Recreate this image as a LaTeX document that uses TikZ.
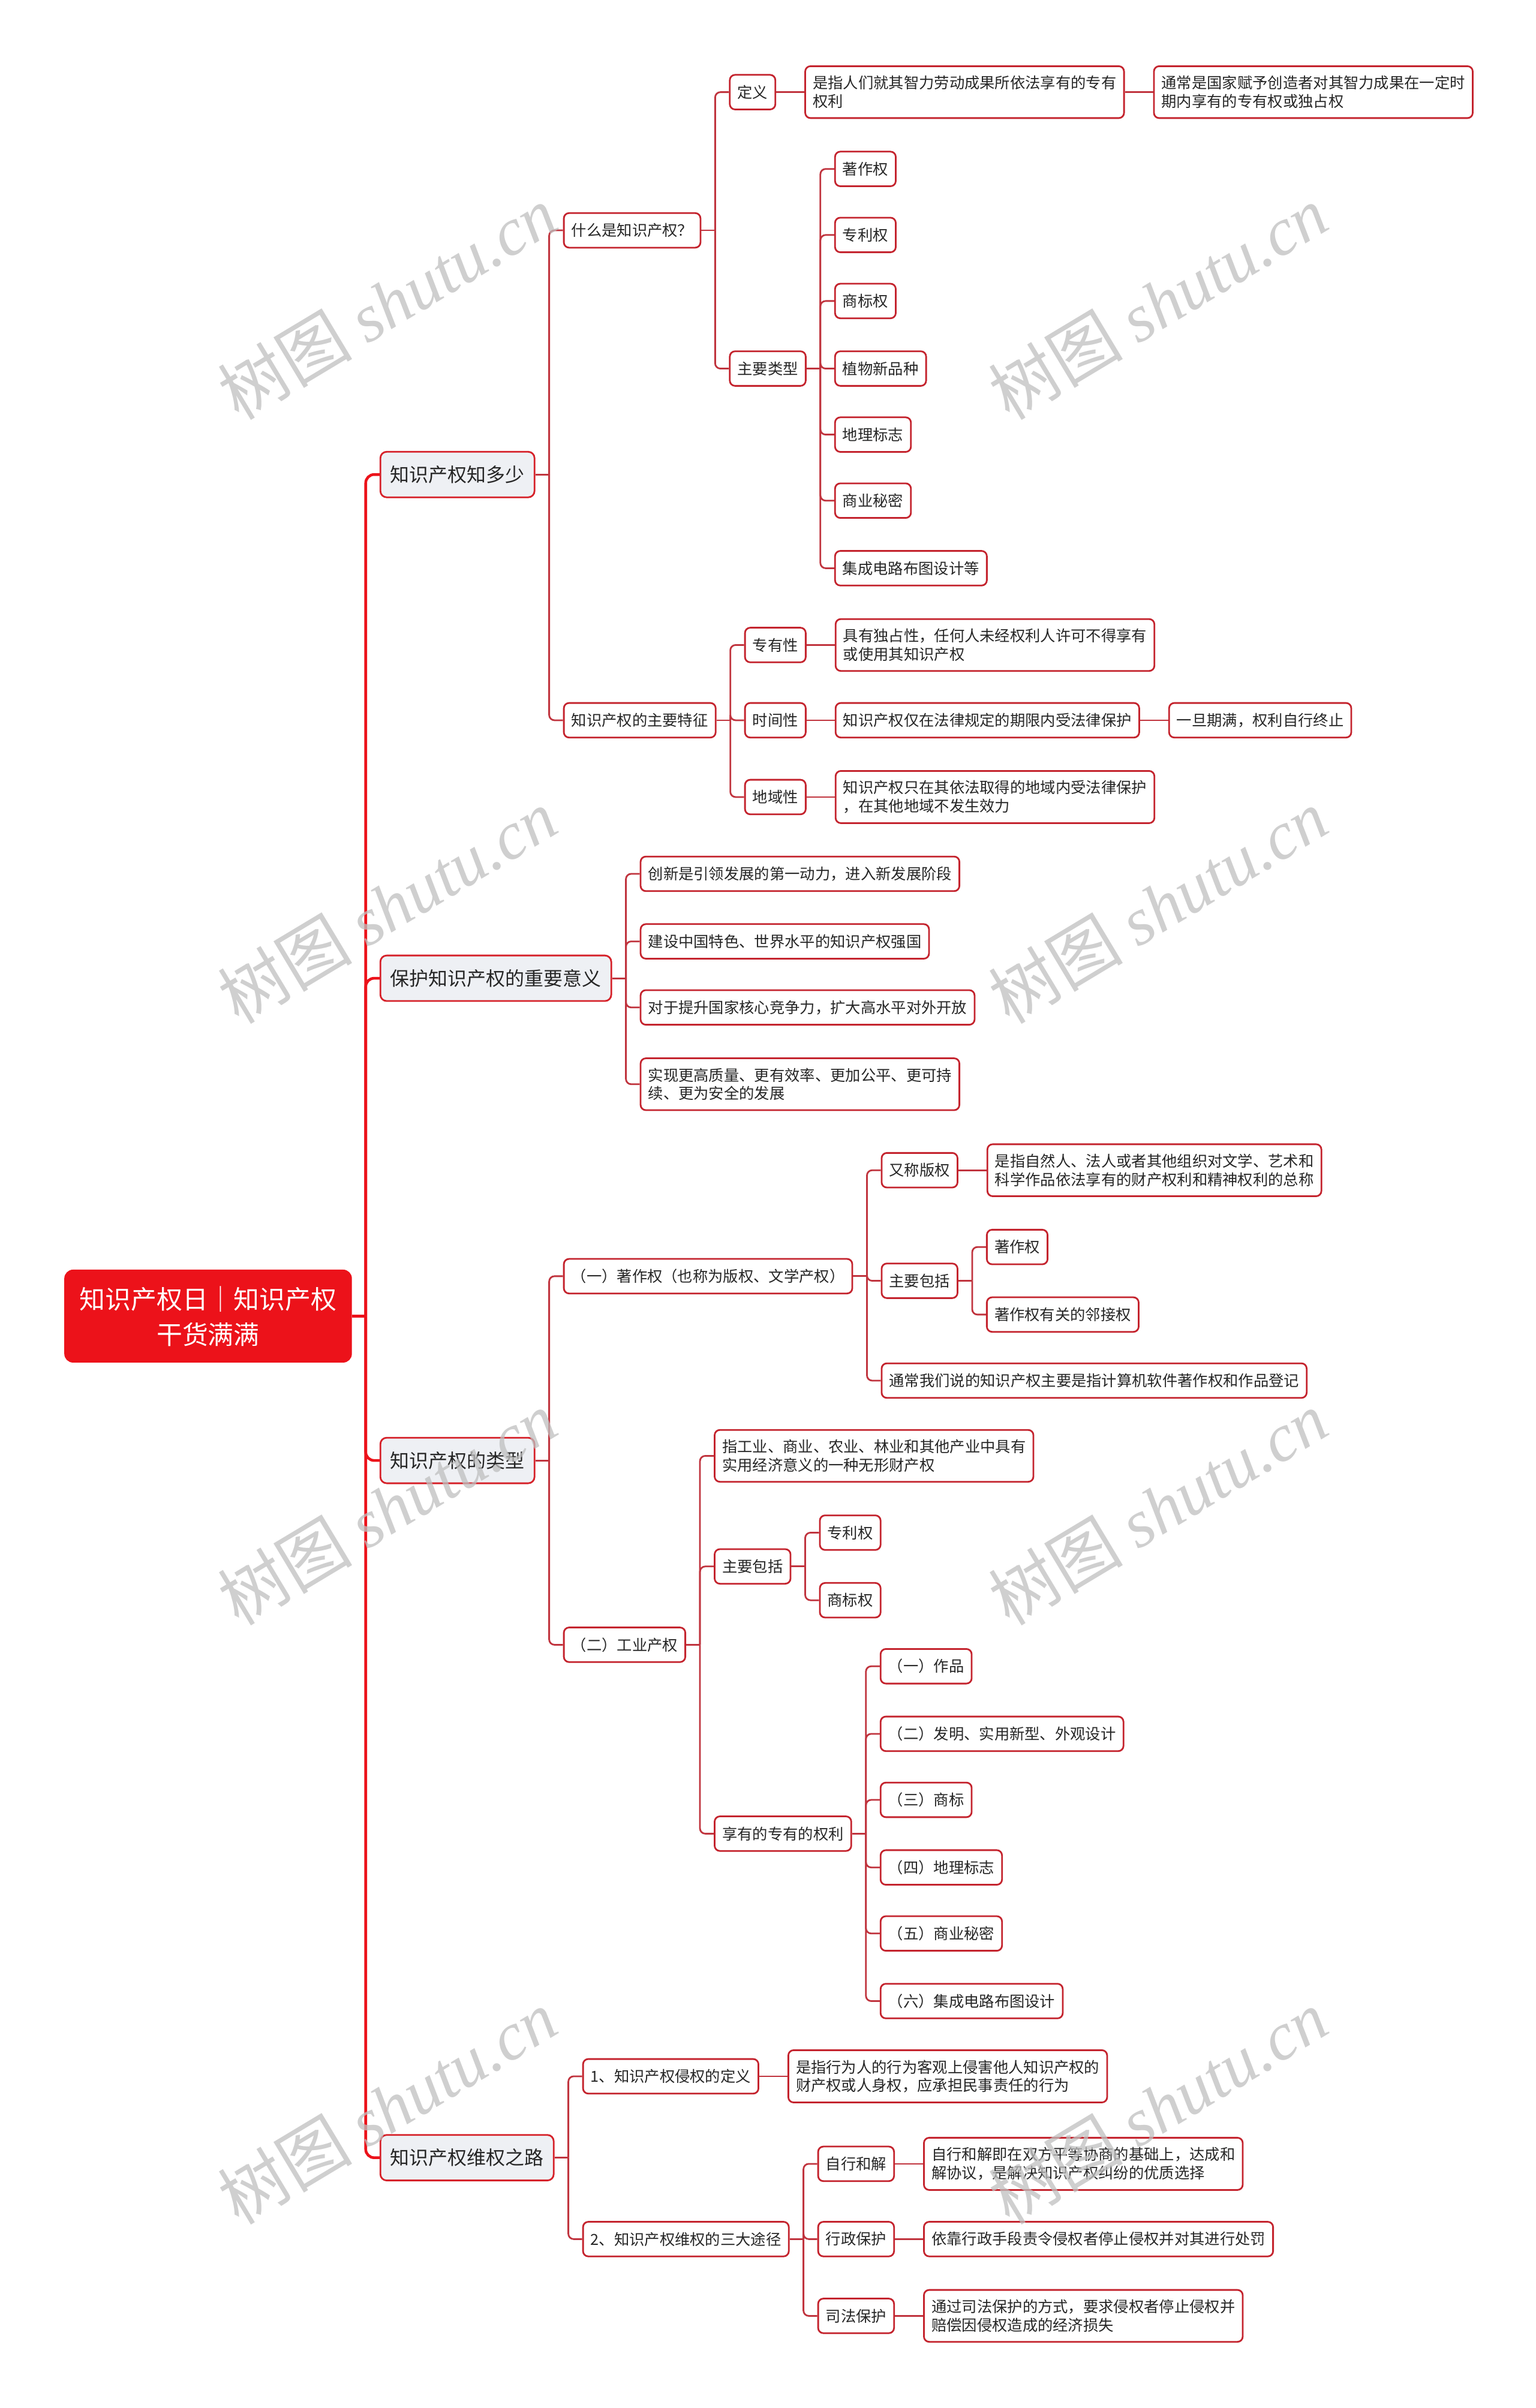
\documentclass[tikz,border=0pt]{standalone}
\usepackage{fontspec}
\setmainfont{Noto Sans CJK SC}
\newfontfamily\wmfont{Liberation Serif}
\usepackage{xcolor}
\usepackage{tikz}
\usetikzlibrary{positioning, calc}
\definecolor{rootred}{RGB}{236,18,26}
\definecolor{topicred}{RGB}{214,34,42}
\definecolor{itemred}{RGB}{196,36,46}
\definecolor{linkred}{RGB}{192,52,62}
\definecolor{topicfill}{RGB}{238,240,244}
\definecolor{ink}{RGB}{38,38,38}

\begin{document}
\begin{tikzpicture}[
    x=0.256mm, y=-0.256mm,
    rootbox/.style={rectangle, rounded corners=4pt, draw=rootred, fill=rootred, text=white, minimum width=136pt, minimum height=43.7pt, align=center, font=\fontsize{12.2}{16.8}\selectfont},
    topic/.style={rectangle, rounded corners=3pt, draw=topicred, line width=0.8pt, fill=topicfill, text=ink, minimum height=21.6pt, inner xsep=4.7pt, font=\fontsize{9.1}{11}\selectfont},
    item/.style={rectangle, rounded corners=2.5pt, draw=itemred, line width=0.8pt, fill=white, text=ink, minimum height=16.4pt, inner xsep=3.6pt, inner ysep=4.6pt, align=left, font=\fontsize{7.2}{8.7}\selectfont},
    trunk/.style={draw=rootred, line width=1.3pt, rounded corners=4pt},
    link/.style={draw=linkred, line width=0.8pt, rounded corners=2.5pt},
    wmark/.style={rotate=31, inner sep=0pt, text=black!25, text opacity=0.75, font=\fontsize{32}{32}\selectfont},
    node distance=0.47cm,
]
\useasboundingbox (0,0) rectangle (1000,1568);

% root and main topics
\node[rootbox] (root) at (135.5,857) {知识产权日｜知识产权\\干货满满};
\node[topic, anchor=west] (know)   at ($(root.east)+(18,-548)$) {知识产权知多少};
\node[topic, anchor=west] (mean)   at ($(root.east)+(18,-220)$) {保护知识产权的重要意义};
\node[topic, anchor=west] (kind)   at ($(root.east)+(18,94)$)   {知识产权的类型};
\node[topic, anchor=west] (defend) at ($(root.east)+(18,548)$)  {知识产权维权之路};

% 知识产权知多少
\node[item, anchor=west] (what) at ($(know.east)+(18,-159)$) {什么是知识产权？};
\node[item, anchor=west] (def)  at ($(what.east)+(18,-90)$)  {定义};
\node[item, right=of def]  (def1) {是指人们就其智力劳动成果所依法享有的专有\\权利};
\node[item, right=of def1] (def2) {通常是国家赋予创造者对其智力成果在一定时\\期内享有的专有权或独占权};
\node[item, anchor=west] (types) at ($(what.east)+(18,90)$) {主要类型};
\node[item, anchor=west] (t1) at ($(types.east)+(18,-130)$) {著作权};
\node[item, anchor=west] (t2) at ($(types.east)+(18,-87)$)  {专利权};
\node[item, anchor=west] (t3) at ($(types.east)+(18,-44)$)  {商标权};
\node[item, anchor=west] (t4) at ($(types.east)+(18,0)$)    {植物新品种};
\node[item, anchor=west] (t5) at ($(types.east)+(18,43)$)   {地理标志};
\node[item, anchor=west] (t6) at ($(types.east)+(18,86)$)   {商业秘密};
\node[item, anchor=west] (t7) at ($(types.east)+(18,130)$)  {集成电路布图设计等};
\node[item, anchor=west] (feat) at ($(know.east)+(18,160)$) {知识产权的主要特征};
\node[item, anchor=west] (excl) at ($(feat.east)+(18,-49)$) {专有性};
\node[item, right=of excl] (excl1) {具有独占性，任何人未经权利人许可不得享有\\或使用其知识产权};
\node[item, anchor=west] (time) at ($(feat.east)+(18,0)$)   {时间性};
\node[item, right=of time]  (time1) {知识产权仅在法律规定的期限内受法律保护};
\node[item, right=of time1] (time2) {一旦期满，权利自行终止};
\node[item, anchor=west] (area) at ($(feat.east)+(18,50)$)  {地域性};
\node[item, right=of area] (area1) {知识产权只在其依法取得的地域内受法律保护\\，在其他地域不发生效力};

% 保护知识产权的重要意义
\node[item, anchor=west] (m1) at ($(mean.east)+(18,-68)$) {创新是引领发展的第一动力，进入新发展阶段};
\node[item, anchor=west] (m2) at ($(mean.east)+(18,-24)$) {建设中国特色、世界水平的知识产权强国};
\node[item, anchor=west] (m3) at ($(mean.east)+(18,19)$)  {对于提升国家核心竞争力，扩大高水平对外开放};
\node[item, anchor=west] (m4) at ($(mean.east)+(18,69)$)  {实现更高质量、更有效率、更加公平、更可持\\续、更为安全的发展};

% 知识产权的类型
\node[item, anchor=west] (copy) at ($(kind.east)+(18,-120)$) {（一）著作权（也称为版权、文学产权）};
\node[item, anchor=west] (alias) at ($(copy.east)+(18,-69)$) {又称版权};
\node[item, right=of alias] (alias1) {是指自然人、法人或者其他组织对文学、艺术和\\科学作品依法享有的财产权利和精神权利的总称};
\node[item, anchor=west] (cinc) at ($(copy.east)+(18,3)$) {主要包括};
\node[item, anchor=west] (cinc1) at ($(cinc.east)+(18,-22)$) {著作权};
\node[item, anchor=west] (cinc2) at ($(cinc.east)+(18,22)$)  {著作权有关的邻接权};
\node[item, anchor=west] (usual) at ($(copy.east)+(18,68)$) {通常我们说的知识产权主要是指计算机软件著作权和作品登记};
\node[item, anchor=west] (indus) at ($(kind.east)+(18,120)$) {（二）工业产权};
\node[item, anchor=west] (ind1) at ($(indus.east)+(18,-123)$) {指工业、商业、农业、林业和其他产业中具有\\实用经济意义的一种无形财产权};
\node[item, anchor=west] (iinc) at ($(indus.east)+(18,-51)$) {主要包括};
\node[item, anchor=west] (iinc1) at ($(iinc.east)+(18,-22)$) {专利权};
\node[item, anchor=west] (iinc2) at ($(iinc.east)+(18,22)$)  {商标权};
\node[item, anchor=west] (own) at ($(indus.east)+(18,123)$) {享有的专有的权利};
\node[item, anchor=west] (o1) at ($(own.east)+(18,-109)$) {（一）作品};
\node[item, anchor=west] (o2) at ($(own.east)+(18,-65)$)  {（二）发明、实用新型、外观设计};
\node[item, anchor=west] (o3) at ($(own.east)+(18,-22)$)  {（三）商标};
\node[item, anchor=west] (o4) at ($(own.east)+(18,22)$)   {（四）地理标志};
\node[item, anchor=west] (o5) at ($(own.east)+(18,65)$)   {（五）商业秘密};
\node[item, anchor=west] (o6) at ($(own.east)+(18,109)$)  {（六）集成电路布图设计};

% 知识产权维权之路
\node[item, anchor=west] (tort) at ($(defend.east)+(18,-53)$) {1、知识产权侵权的定义};
\node[item, right=of tort] (tort1) {是指行为人的行为客观上侵害他人知识产权的\\财产权或人身权，应承担民事责任的行为};
\node[item, anchor=west] (ways) at ($(defend.east)+(18,53)$) {2、知识产权维权的三大途径};
\node[item, anchor=west] (w1) at ($(ways.east)+(18,-49)$) {自行和解};
\node[item, right=of w1] (w1a) {自行和解即在双方平等协商的基础上，达成和\\解协议，是解决知识产权纠纷的优质选择};
\node[item, anchor=west] (w2) at ($(ways.east)+(18,0)$) {行政保护};
\node[item, right=of w2] (w2a) {依靠行政手段责令侵权者停止侵权并对其进行处罚};
\node[item, anchor=west] (w3) at ($(ways.east)+(18,50)$) {司法保护};
\node[item, right=of w3] (w3a) {通过司法保护的方式，要求侵权者停止侵权并\\赔偿因侵权造成的经济损失};

% trunk
\draw[trunk] (root.east) -- ++(9,0);
\draw[trunk] (root.east) ++(9,0) |- (know.west);
\draw[trunk] (root.east) ++(9,0) |- (mean.west);
\draw[trunk] (root.east) ++(9,0) |- (kind.west);
\draw[trunk] (root.east) ++(9,0) |- (defend.west);

% branch links
\draw[link] (know.east) -- ++(9,0);
\draw[link] (know.east) ++(9,0) |- (what.west);
\draw[link] (know.east) ++(9,0) |- (feat.west);
\draw[link] (what.east) -- ++(9,0);
\draw[link] (what.east) ++(9,0) |- (def.west);
\draw[link] (what.east) ++(9,0) |- (types.west);
\draw[link] (def) -- (def1);
\draw[link] (def1) -- (def2);
\draw[link] (types.east) -- ++(9,0);
\draw[link] (types.east) ++(9,0) |- (t1.west);
\draw[link] (types.east) ++(9,0) |- (t2.west);
\draw[link] (types.east) ++(9,0) |- (t3.west);
\draw[link] (types.east) ++(9,0) |- (t4.west);
\draw[link] (types.east) ++(9,0) |- (t5.west);
\draw[link] (types.east) ++(9,0) |- (t6.west);
\draw[link] (types.east) ++(9,0) |- (t7.west);
\draw[link] (feat.east) -- ++(9,0);
\draw[link] (feat.east) ++(9,0) |- (excl.west);
\draw[link] (feat.east) ++(9,0) |- (time.west);
\draw[link] (feat.east) ++(9,0) |- (area.west);
\draw[link] (excl) -- (excl1);
\draw[link] (time) -- (time1);
\draw[link] (time1) -- (time2);
\draw[link] (area) -- (area1);

\draw[link] (mean.east) -- ++(9,0);
\draw[link] (mean.east) ++(9,0) |- (m1.west);
\draw[link] (mean.east) ++(9,0) |- (m2.west);
\draw[link] (mean.east) ++(9,0) |- (m3.west);
\draw[link] (mean.east) ++(9,0) |- (m4.west);

\draw[link] (kind.east) -- ++(9,0);
\draw[link] (kind.east) ++(9,0) |- (copy.west);
\draw[link] (kind.east) ++(9,0) |- (indus.west);
\draw[link] (copy.east) -- ++(9,0);
\draw[link] (copy.east) ++(9,0) |- (alias.west);
\draw[link] (copy.east) ++(9,0) |- (cinc.west);
\draw[link] (copy.east) ++(9,0) |- (usual.west);
\draw[link] (alias) -- (alias1);
\draw[link] (cinc.east) -- ++(9,0);
\draw[link] (cinc.east) ++(9,0) |- (cinc1.west);
\draw[link] (cinc.east) ++(9,0) |- (cinc2.west);
\draw[link] (indus.east) -- ++(9,0);
\draw[link] (indus.east) ++(9,0) |- (ind1.west);
\draw[link] (indus.east) ++(9,0) |- (iinc.west);
\draw[link] (indus.east) ++(9,0) |- (own.west);
\draw[link] (iinc.east) -- ++(9,0);
\draw[link] (iinc.east) ++(9,0) |- (iinc1.west);
\draw[link] (iinc.east) ++(9,0) |- (iinc2.west);
\draw[link] (own.east) -- ++(9,0);
\draw[link] (own.east) ++(9,0) |- (o1.west);
\draw[link] (own.east) ++(9,0) |- (o2.west);
\draw[link] (own.east) ++(9,0) |- (o3.west);
\draw[link] (own.east) ++(9,0) |- (o4.west);
\draw[link] (own.east) ++(9,0) |- (o5.west);
\draw[link] (own.east) ++(9,0) |- (o6.west);

\draw[link] (defend.east) -- ++(9,0);
\draw[link] (defend.east) ++(9,0) |- (tort.west);
\draw[link] (defend.east) ++(9,0) |- (ways.west);
\draw[link] (tort) -- (tort1);
\draw[link] (ways.east) -- ++(9,0);
\draw[link] (ways.east) ++(9,0) |- (w1.west);
\draw[link] (ways.east) ++(9,0) |- (w2.west);
\draw[link] (ways.east) ++(9,0) |- (w3.west);
\draw[link] (w1) -- (w1a);
\draw[link] (w2) -- (w2a);
\draw[link] (w3) -- (w3a);

% watermarks
\node[wmark] (wm1) at (252,197)  {树图 {\wmfont\itshape shutu.cn}};
\node[wmark] (wm2) at (754,197)  {树图 {\wmfont\itshape shutu.cn}};
\node[wmark] (wm3) at (252,590)  {树图 {\wmfont\itshape shutu.cn}};
\node[wmark] (wm4) at (754,590)  {树图 {\wmfont\itshape shutu.cn}};
\node[wmark] (wm5) at (252,982)  {树图 {\wmfont\itshape shutu.cn}};
\node[wmark] (wm6) at (754,982)  {树图 {\wmfont\itshape shutu.cn}};
\node[wmark] (wm7) at (252,1372) {树图 {\wmfont\itshape shutu.cn}};
\node[wmark] (wm8) at (754,1372) {树图 {\wmfont\itshape shutu.cn}};
\end{tikzpicture}
\end{document}
